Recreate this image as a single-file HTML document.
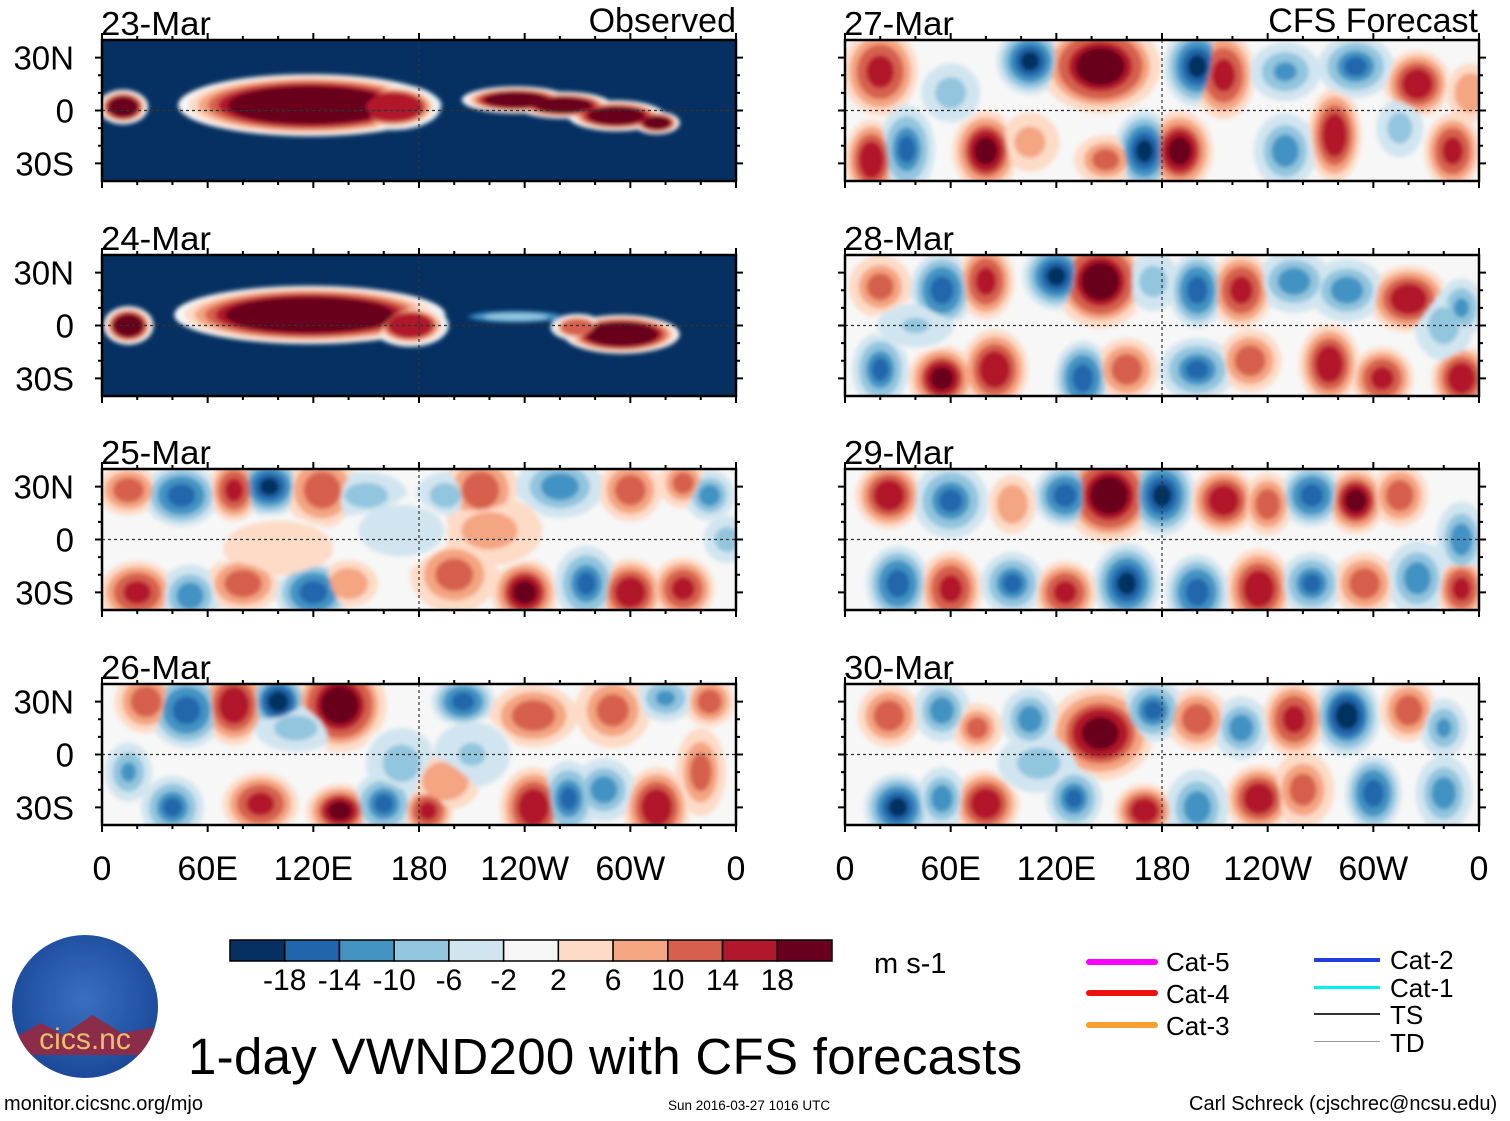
<!DOCTYPE html>
<html><head><meta charset="utf-8">
<style>
html,body{margin:0;padding:0;background:#fff;}
body{width:1510px;height:1121px;overflow:hidden;position:relative;font-family:"Liberation Sans",sans-serif;}
.t{position:absolute;white-space:nowrap;color:#000;}
</style></head>
<body>
<svg id="chart" width="1510" height="1121" style="position:absolute;left:0;top:0" xmlns="http://www.w3.org/2000/svg">
<defs><filter id="bl" x="-20%" y="-20%" width="140%" height="140%"><feGaussianBlur stdDeviation="2"/></filter></defs>
</svg>
<script>
const levelBounds=[-18,-14,-10,-6,-2,2,6,10,14,18];
const levelColors=["#053061","#2166ac","#4393c3","#92c5de","#d1e5f0","#f7f7f7","#fddbc7","#f4a582","#d6604d","#b2182b","#67001f"];
const cbLabels=["-18","-14","-10","-6","-2","2","6","10","14","18"];
const panelTitles=["23-Mar","24-Mar","25-Mar","26-Mar","27-Mar","28-Mar","29-Mar","30-Mar"];
const panelBackgrounds=[-22,-22,0,0,0,0,0,0];
const lonTickLabels=["0","60E","120E","180","120W","60W","0"];
const latTickLabels=["30N","0","30S"];
const p0Lon=[118,12,235,262,292,315,165];const p0Lat=[3,2,6,3,-3,-7,2];const p0Val=[24,20,20,22,22,20,18];const p0Rx=[68,13,28,25,25,12,25];const p0Ry=[16,9,7,7,8,6,12];
const p1Lon=[118,15,295,270,235,175];const p1Lat=[6,0,-5,-1,5,0];const p1Val=[24,22,24,14,-8,16];const p1Rx=[70,13,30,14,25,20];const p1Ry=[15,10,10,7,3,11];
const p2Lon=[15,45,75,95,125,150,195,215,260,300,330,345,20,50,80,120,140,200,240,275,300,330,170,220,100,355];
const p2Lat=[28,25,28,30,28,25,25,28,30,28,32,25,-30,-32,-25,-30,-25,-20,-30,-25,-30,-28,5,5,-5,0];
const p2Val=[14,-16,16,-18,14,-8,-8,14,-12,14,12,-12,16,-12,14,-16,10,12,20,-14,18,16,-4,8,6,-8];
const p2Rx=[10,12,8,10,12,14,10,12,14,10,8,8,12,10,12,12,10,14,10,10,10,10,20,18,20,8];
const p2Ry=[8,10,10,9,12,8,8,12,10,10,8,8,10,10,9,10,8,12,10,12,10,10,12,12,10,8];
const p3Lon=[25,48,75,100,135,170,205,245,290,320,345,15,40,90,135,160,185,195,245,265,285,315,340,110,210];
const p3Lat=[30,25,28,30,28,-5,30,22,25,32,30,-10,-30,-28,-32,-28,-32,-15,-30,-25,-20,-30,-10,15,0];
const p3Val=[14,-16,18,-20,22,-8,-16,14,12,-10,14,-10,-14,16,20,-14,16,10,18,-14,-12,18,12,-8,-6];
const p3Rx=[10,12,10,9,14,12,10,14,12,10,8,8,10,12,10,10,8,12,10,9,10,10,8,14,14];
const p3Ry=[10,12,12,9,14,12,8,10,12,8,8,10,10,10,8,10,8,10,12,12,10,12,14,8,12];
const p4Lon=[20,60,105,145,200,215,250,290,325,355,15,35,80,105,148,170,190,250,278,315,345];
const p4Lat=[22,10,28,25,25,20,22,25,15,10,-28,-22,-23,-18,-28,-23,-23,-23,-14,-10,-23];
const p4Val=[16,-8,-18,22,-18,16,-10,-14,18,10,18,-14,20,8,12,-18,20,-12,18,-8,16];
const p4Rx=[12,10,10,18,10,10,12,12,10,8,8,9,10,10,10,9,10,10,8,8,9];
const p4Ry=[14,10,10,14,12,14,10,10,10,10,12,14,12,10,8,12,12,12,14,10,12];
const p5Lon=[20,55,80,120,145,175,200,225,255,285,320,350,20,55,85,135,160,200,230,275,305,350,40,340];
const p5Lat=[22,20,25,28,25,25,20,20,25,20,15,10,-25,-30,-25,-30,-25,-25,-20,-22,-30,-30,0,0];
const p5Val=[12,-16,16,-18,22,-8,-16,16,-12,-12,18,-10,-14,20,18,-16,14,-14,14,18,16,18,-6,-8];
const p5Rx=[10,10,9,10,14,9,9,10,12,12,12,8,9,10,10,9,10,12,10,9,10,9,14,10];
const p5Ry=[10,12,12,10,14,10,12,12,10,10,10,10,12,10,12,12,10,10,10,12,10,10,8,12];
const p6Lon=[25,60,95,125,150,180,215,240,265,290,315,350,30,60,95,125,160,200,235,265,295,325,350];
const p6Lat=[25,22,20,25,25,25,22,20,25,22,25,0,-25,-28,-25,-30,-25,-30,-28,-25,-25,-22,-28];
const p6Val=[18,-14,10,-16,22,-18,18,14,-16,20,14,-12,-16,16,-14,16,-18,-16,18,-14,14,-12,16];
const p6Rx=[10,12,8,10,14,10,10,8,10,9,9,8,10,10,10,10,10,10,10,10,10,10,8];
const p6Ry=[10,12,10,10,14,12,10,10,10,10,10,12,12,12,10,10,12,12,12,10,10,12,10];
const p7Lon=[25,55,75,105,145,175,200,225,255,285,320,340,30,55,80,130,170,200,235,260,300,340,110];
const p7Lat=[22,25,15,20,12,25,20,15,20,22,25,15,-30,-25,-28,-25,-32,-30,-25,-20,-22,-22,-5];
const p7Val=[14,-12,12,-12,20,-14,14,-12,16,-20,14,-10,-18,-12,18,-14,18,-12,18,12,-16,-12,-8];
const p7Rx=[10,9,8,9,16,10,10,9,10,10,9,8,10,8,10,9,9,10,10,10,9,9,14];
const p7Ry=[10,10,8,10,14,10,10,10,12,12,10,10,10,10,10,10,8,12,10,12,12,12,10];
const panelLon=[p0Lon,p1Lon,p2Lon,p3Lon,p4Lon,p5Lon,p6Lon,p7Lon];
const panelLat=[p0Lat,p1Lat,p2Lat,p3Lat,p4Lat,p5Lat,p6Lat,p7Lat];
const panelVal=[p0Val,p1Val,p2Val,p3Val,p4Val,p5Val,p6Val,p7Val];
const panelRx=[p0Rx,p1Rx,p2Rx,p3Rx,p4Rx,p5Rx,p6Rx,p7Rx];
const panelRy=[p0Ry,p1Ry,p2Ry,p3Ry,p4Ry,p5Ry,p6Ry,p7Ry];

const NS="http://www.w3.org/2000/svg";
const svg=document.getElementById('chart');
function mk(tag,attrs,parent){const e=document.createElementNS(NS,tag);for(const k in attrs)e.setAttribute(k,attrs[k]);(parent||svg).appendChild(e);return e;}
function colorOf(v){let i=0;while(i<levelBounds.length&&v>levelBounds[i])i++;return levelColors[i];}
const colX=[102,845],panW=634,rowY=[40,255,469,684],panH=141;
const FF='Liberation Sans, sans-serif';

for(let p=0;p<8;p++){
  const X0=colX[Math.floor(p/4)],Y0=rowY[p%4];
  const xS=lon=>X0+lon/360*panW;
  const yS=lat=>Y0+panH/2-lat/40*(panH/2);
  const kx=panW/360,ky=panH/80;
  const obs=p<2;
  const cp=mk('clipPath',{id:'cp'+p});
  mk('rect',{x:X0,y:Y0,width:panW,height:panH},cp);
  const g=mk('g',{'clip-path':'url(#cp'+p+')'});
  
  
  const bg=panelBackgrounds[p];
  const bgr=mk('rect',{x:X0,y:Y0,width:panW,height:panH,fill:colorOf(bg)},g);
  
  
  const inner=mk('g',{filter:'url(#bl)'},g);
  const L=panelLon[p];
  const N=12;
  for(let s=0;s<=N;s++){
    const t=s/N;
    for(let i=0;i<L.length;i++){
      const v=panelVal[p][i];
      let val,sc;
      if(obs){val=bg+(v-bg)*(0.45+0.55*t);sc=1.1-0.5*t;}
      else{val=v*(0.12+0.88*t);sc=1.9-1.35*t;}
      const e=mk('ellipse',{cx:xS(L[i]),cy:yS(panelLat[p][i]),rx:panelRx[p][i]*kx*sc,ry:panelRy[p][i]*ky*sc,fill:colorOf(val)},inner);
      if(s===N){}
    }
  }
  mk('line',{x1:X0,x2:X0+panW,y1:yS(0),y2:yS(0),stroke:'#333','stroke-width':1.2,'stroke-dasharray':'3,3'},g);
  mk('line',{x1:xS(180),x2:xS(180),y1:Y0,y2:Y0+panH,stroke:'#333','stroke-width':1.2,'stroke-dasharray':'3,3'},g);
  const fr=mk('rect',{x:X0,y:Y0,width:panW,height:panH,fill:'none',stroke:'#000','stroke-width':2.5});
  
  
  for(let lon=0;lon<=360;lon+=20){const len=lon%60===0?7:4;
    mk('line',{x1:xS(lon),x2:xS(lon),y1:Y0,y2:Y0-len,stroke:'#000','stroke-width':2});
    mk('line',{x1:xS(lon),x2:xS(lon),y1:Y0+panH,y2:Y0+panH+len,stroke:'#000','stroke-width':2});}
  for(let lat=-30;lat<=30;lat+=10){const len=lat%30===0?7:4;
    mk('line',{x1:X0,x2:X0-len,y1:yS(lat),y2:yS(lat),stroke:'#000','stroke-width':2});
    mk('line',{x1:X0+panW,x2:X0+panW+len,y1:yS(lat),y2:yS(lat),stroke:'#000','stroke-width':2});}
  const tt=mk('text',{x:X0-1,y:Y0-5,'font-size':33,'font-family':FF,textLength:110,lengthAdjust:'spacingAndGlyphs'});
  tt.textContent=panelTitles[p];
  
  
  if(p<4){latTickLabels.forEach((lb,j)=>{const t=mk('text',{x:74,y:yS(30-30*j)+12,'font-size':33,'text-anchor':'end','font-family':FF});t.textContent=lb;
    
    });}
  if(p%4===3){lonTickLabels.forEach((lb,j)=>{const t=mk('text',{x:xS(j*60),y:880,'font-size':34,'text-anchor':'middle','font-family':FF});t.textContent=lb;
    
    });}
}
let h1=mk('text',{x:736,y:32,'font-size':34,'text-anchor':'end','font-family':FF});h1.textContent='Observed';


let h2=mk('text',{x:1478,y:32,'font-size':34,'text-anchor':'end','font-family':FF});h2.textContent='CFS Forecast';


const cbX=230,cbW=602/11;
levelColors.forEach((c,i)=>{const r=mk('rect',{x:cbX+i*cbW,y:940,width:cbW,height:21,fill:c,stroke:'#000','stroke-width':1.5});
  
  });
cbLabels.forEach((lb,i)=>{const t=mk('text',{x:cbX+(i+1)*cbW,y:990,'font-size':30,'text-anchor':'middle','font-family':FF});t.textContent=lb;
  
  });
</script>
<div class="t" style="left:874px;top:948px;font-size:29px">m s-1</div>
<div style="position:absolute;left:12px;top:935px;width:146px;height:143px;border-radius:50%;overflow:hidden;background:radial-gradient(circle at 50% 45%,#3a6fc0,#1d4b9c 70%,#143c86);">
 <div style="position:absolute;left:0;right:0;top:80px;height:40px;background:#8a2c4a;clip-path:polygon(0 60%,20% 20%,35% 50%,55% 0,75% 45%,100% 30%,100% 100%,0 100%);"></div>
 <div style="position:absolute;left:0;right:0;top:88px;text-align:center;color:#e8c070;font-size:30px;font-family:'Liberation Sans',sans-serif">cics.nc</div>
</div>
<div class="t" style="left:188px;top:1027px;font-size:51px;letter-spacing:0.3px">1-day VWND200 with CFS forecasts</div>
<div class="t" style="left:4px;top:1093px;font-size:20px">monitor.cicsnc.org/mjo</div>
<div class="t" style="left:668px;top:1098px;font-size:13.5px">Sun 2016-03-27 1016 UTC</div>
<div class="t" style="left:1189px;top:1093px;font-size:20px">Carl Schreck (cjschrec@ncsu.edu)</div>
<div>
 <div style="position:absolute;left:1086px;top:959px;width:72px;height:6px;background:#ff00ff;border-radius:3px"></div>
 <div class="t" style="left:1166px;top:947px;font-size:26px">Cat-5</div>
 <div style="position:absolute;left:1086px;top:990px;width:72px;height:6px;background:#ee1111;border-radius:3px"></div>
 <div class="t" style="left:1166px;top:979px;font-size:26px">Cat-4</div>
 <div style="position:absolute;left:1086px;top:1022px;width:72px;height:6px;background:#f5a030;border-radius:3px"></div>
 <div class="t" style="left:1166px;top:1011px;font-size:26px">Cat-3</div>
 <div style="position:absolute;left:1314px;top:958px;width:66px;height:4px;background:#1f3ee0"></div>
 <div class="t" style="left:1390px;top:945px;font-size:26px">Cat-2</div>
 <div style="position:absolute;left:1314px;top:986px;width:66px;height:3px;background:#00f0f0"></div>
 <div class="t" style="left:1390px;top:973px;font-size:26px">Cat-1</div>
 <div style="position:absolute;left:1314px;top:1013px;width:66px;height:2px;background:#333"></div>
 <div class="t" style="left:1390px;top:1000px;font-size:26px">TS</div>
 <div style="position:absolute;left:1314px;top:1041px;width:66px;height:1px;background:#999"></div>
 <div class="t" style="left:1390px;top:1028px;font-size:26px">TD</div>
</div>
</body></html>
